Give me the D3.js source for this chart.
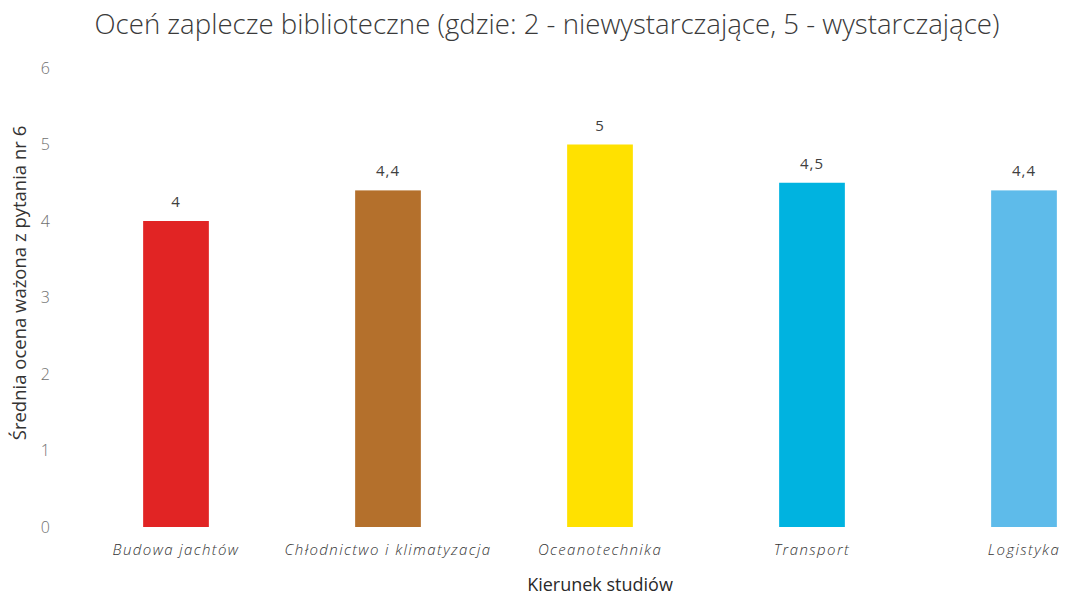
<!DOCTYPE html>
<html>
<head>
<meta charset="utf-8">
<script src="https://cdn.jsdelivr.net/npm/d3@7"></script>
<style>
  body { margin: 0; background: #fff; }
  text { font-family: "Open Sans", "Noto Sans", sans-serif; }
</style>
</head>
<body>
<div id="chart"></div>
<script>
// data
var categories = ["Budowa jachtów", "Chłodnictwo i klimatyzacja", "Oceanotechnika", "Transport", "Logistyka"];
var values = [4, 4.4, 5, 4.5, 4.4];
var valueLabels = ["4", "4,4", "5", "4,5", "4,4"];
var yTicks = [0, 1, 2, 3, 4, 5, 6];
var barColors = ["#e12424", "#b4702c", "#ffe100", "#00b3e0", "#5ebbea"];

var width = 1081, height = 595;

var svg = d3.select("#chart")
    .append("svg")
    .attr("width", width)
    .attr("height", height);

// scales
var x = d3.scaleBand()
    .domain(categories)
    .range([70, 1130])
    .paddingInner(0.69)
    .paddingOuter(0.345);

var y = d3.scaleLinear()
    .domain([0, 6])
    .range([527, 68]);

// title
svg.append("text")
    .attr("x", 547)
    .attr("y", 34)
    .attr("text-anchor", "middle")
    .attr("textLength", 905)
    .attr("lengthAdjust", "spacingAndGlyphs")
    .style("font-size", "27px")
    .style("font-weight", 300)
    .style("fill", "#3a3a3a")
    .text("Oceń zaplecze biblioteczne (gdzie: 2 - niewystarczające, 5 - wystarczające)");

// y axis (labels only)
var yAxis = svg.append("g")
    .attr("transform", "translate(50,0)")
    .call(d3.axisLeft(y).tickValues(yTicks).tickFormat(d3.format("d")).tickSize(0).tickPadding(0));
yAxis.select(".domain").remove();
yAxis.selectAll("text")
    .style("font-family", "\"Open Sans\", sans-serif")
    .style("font-size", "16px")
    .style("font-weight", 300)
    .style("fill", "#707070");

// y axis title
svg.append("text")
    .attr("transform", "translate(26,283) rotate(-90)")
    .attr("text-anchor", "middle")
    .style("font-size", "18.5px")
    .style("fill", "#333")
    .text("Średnia ocena ważona z pytania nr 6");

// bars
svg.selectAll(".bar")
    .data(values)
    .enter().append("rect")
    .attr("class", "bar")
    .attr("x", function(d, i) { return x(categories[i]); })
    .attr("width", x.bandwidth())
    .attr("y", function(d) { return y(d); })
    .attr("height", function(d) { return y(0) - y(d); })
    .style("fill", function(d, i) { return barColors[i]; });

// value labels
svg.selectAll(".val")
    .data(values)
    .enter().append("text")
    .attr("class", "val")
    .attr("x", function(d, i) { return x(categories[i]) + x.bandwidth() / 2; })
    .attr("y", function(d) { return y(d) - 14; })
    .attr("text-anchor", "middle")
    .style("font-size", "15px")
    .style("letter-spacing", "1px")
    .style("fill", "#404040")
    .text(function(d, i) { return valueLabels[i]; });

// x axis (labels only)
var xAxis = svg.append("g")
    .attr("transform", "translate(0,544)")
    .call(d3.axisBottom(x).tickSize(0).tickPadding(0));
xAxis.select(".domain").remove();
xAxis.selectAll("text")
    .style("font-family", "\"Open Sans\", sans-serif")
    .style("font-size", "15px")
    .style("font-style", "italic")
    .style("font-weight", 300)
    .style("letter-spacing", "1.4px")
    .style("fill", "#333");

// x axis title
svg.append("text")
    .attr("x", 600)
    .attr("y", 591)
    .attr("text-anchor", "middle")
    .style("font-size", "18px")
    .style("font-weight", 500)
    .style("fill", "#2a2a2a")
    .text("Kierunek studiów");
</script>
</body>
</html>
